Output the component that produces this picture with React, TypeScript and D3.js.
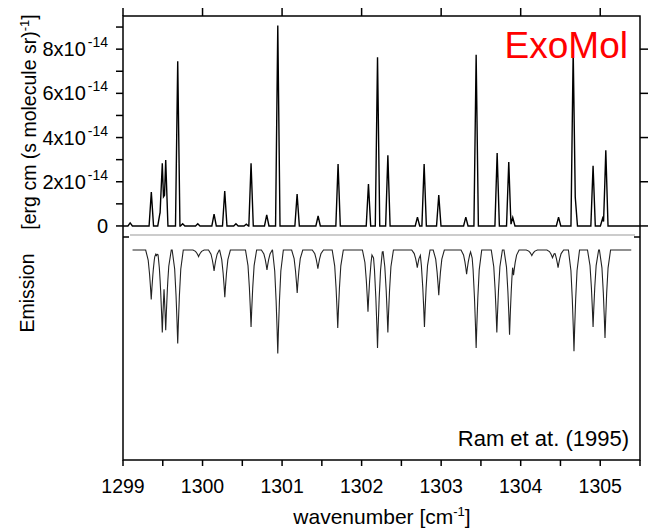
import React from 'react';
import * as d3 from 'd3';

const W = 653;
const H = 532;

// ExoMol line list: positions (cm-1) and peak intensities (x1e-14 erg cm (s molecule sr)^-1)
const exoPos = [
  1299.09, 1299.356, 1299.465, 1299.494, 1299.537, 1299.688, 1299.75, 1299.94,
  1300.145, 1300.279, 1300.42, 1300.55, 1300.61, 1300.807, 1300.946, 1301.189,
  1301.453, 1301.704, 1302.086, 1302.2, 1302.33, 1302.702, 1302.786, 1302.97,
  1303.31, 1303.44, 1303.704, 1303.85, 1303.9, 1304.476, 1304.66, 1304.686,
  1304.91, 1305.03, 1305.07,
];
const exoInt = [
  0.14, 1.53, 0.59, 2.84, 2.98, 7.45, 0.1, 0.1,
  0.54, 1.58, 0.1, 0.08, 2.84, 0.5, 9.07, 1.44,
  0.45, 2.8, 1.9, 7.63, 3.2, 0.4, 2.8, 1.4,
  0.4, 7.75, 3.3, 2.89, 0.38, 0.4, 7.95, 1.3,
  2.72, 0.35, 3.43,
];

// Ram et al. (1995) scanned emission trace: dip positions (cm-1) and relative depth
const ramPos = [
  1299.355, 1299.42, 1299.494, 1299.537, 1299.688, 1299.95, 1300.145, 1300.28,
  1300.61, 1300.81, 1300.946, 1301.19, 1301.45, 1301.70, 1302.08, 1302.20,
  1302.33, 1302.70, 1302.79, 1302.97, 1303.32, 1303.44, 1303.70, 1303.86,
  1303.91, 1304.14, 1304.40, 1304.47, 1304.67, 1304.91, 1305.06,
];
const ramDepth = [
  0.45, 0.05, 0.75, 0.73, 0.85, 0.06, 0.19, 0.43,
  0.70, 0.18, 0.94, 0.39, 0.17, 0.71, 0.56, 0.89,
  0.75, 0.16, 0.70, 0.41, 0.22, 0.89, 0.75, 0.77,
  0.23, 0.05, 0.07, 0.16, 0.92, 0.70, 0.80,
];
const ramRange = [1299.12, 1305.39];

const xMajor = [1299, 1300, 1301, 1302, 1303, 1304, 1305];
const xMinor = [1299.5, 1300.5, 1301.5, 1302.5, 1303.5, 1304.5, 1305.5];
const yMajor = [0, 2, 4, 6, 8];
const yMinor = [1, 3, 5, 7, 9];

const FONT = '"Liberation Sans", Arial, sans-serif';

// line profile: each line drawn as a narrow peak, lines max-combined.
// power 1 = triangle, power 2 = sharp tip with broader wings
function profile(pos: number[], val: number[], hw: number, pw: number, x0: number, x1: number) {
  const fr = pw === 1 ? [0, 1] : [0, 0.12, 0.3, 0.55, 1];
  const xs = new Set<number>([x0, x1]);
  pos.forEach(p => fr.forEach(f => { xs.add(p - f * hw); xs.add(p + f * hw); }));
  const sorted = Array.from(xs).filter(v => v >= x0 && v <= x1).sort((a, b) => a - b);
  return sorted.map(xv => {
    let v = 0;
    pos.forEach((p, i) => {
      const d = Math.abs(xv - p);
      if (d < hw) v = Math.max(v, val[i] * Math.pow(1 - d / hw, pw));
    });
    return [xv, v] as [number, number];
  });
}

export default function App() {
  const left = 123, right = 640, top = 16, bottom = 460, split = 237;

  const x = d3.scaleLinear().domain([1299, 1305.5]).range([left, right]);
  const yTop = d3.scaleLinear().domain([-0.5, 9.5]).range([split, top]);
  const yLow = d3.scaleLinear().domain([0, 1]).range([250, 360]);

  const upper = profile(exoPos, exoInt, 0.028, 1, 1299, 1305.5);
  const lower = profile(ramPos, ramDepth, 0.07, 2, ramRange[0], ramRange[1]);

  const lineTop = d3.line<[number, number]>().x(d => x(d[0])).y(d => yTop(d[1]));
  const lineLow = d3.line<[number, number]>().x(d => x(d[0])).y(d => yLow(d[1]));

  return (
    <svg width={W} height={H} style={{ position: 'absolute', left: 0, top: 0, background: '#fff' }}
      fontFamily={FONT}>
      <rect width={W} height={H} fill="#fff" />

      {/* scanned panel top edge */}
      <line x1={130} x2={635} y1={235} y2={235} stroke="#999" strokeWidth={1} />

      <path d={lineTop(upper) || ''} fill="none" stroke="#000" strokeWidth={1.4} />
      <path d={lineLow(lower) || ''} fill="none" stroke="#222" strokeWidth={1.1} />

      {/* frame */}
      <rect x={left} y={top} width={right - left} height={bottom - top}
        fill="none" stroke="#000" strokeWidth={1.5} />

      {/* top ticks */}
      {xMajor.map(t => (
        <line key={'tt' + t} x1={x(t)} x2={x(t)} y1={top} y2={top - 8} stroke="#000" strokeWidth={1.5} />
      ))}
      {/* bottom ticks */}
      {xMajor.concat(xMinor).map(t => (
        <line key={'bt' + t} x1={x(t)} x2={x(t)} y1={bottom} y2={bottom + 6} stroke="#000" strokeWidth={1.5} />
      ))}
      {/* left ticks */}
      {yMajor.concat(yMinor).map(t => (
        <line key={'lt' + t} x1={left} x2={left - 7} y1={yTop(t)} y2={yTop(t)} stroke="#000" strokeWidth={1.5} />
      ))}
      {/* right ticks */}
      {yMajor.map(t => (
        <line key={'rt' + t} x1={right} x2={right + 8} y1={yTop(t)} y2={yTop(t)} stroke="#000" strokeWidth={1.5} />
      ))}
      <line x1={left} x2={left + 6} y1={split} y2={split} stroke="#000" strokeWidth={1.5} />
      <line x1={right} x2={right - 6} y1={split} y2={split} stroke="#000" strokeWidth={1.5} />

      {/* y tick labels */}
      {yMajor.map(t => (
        <text key={'yl' + t} x={108} y={yTop(t) + 7} textAnchor="end" fontSize={20} fill="#000">
          {t === 0 ? '0' : `${t}x10`}
          {t !== 0 && <tspan dx={2} dy={-9} fontSize={14}>-14</tspan>}
        </text>
      ))}

      {/* x tick labels */}
      {xMajor.map(t => (
        <text key={'xl' + t} x={x(t)} y={493} textAnchor="middle" fontSize={19.5} fill="#000">{t}</text>
      ))}

      <text x={382} y={524} textAnchor="middle" fontSize={21} fill="#000">
        wavenumber [cm<tspan dy={-8} fontSize={13}>-1</tspan><tspan dy={8}>]</tspan>
      </text>

      <text transform="translate(36,122) rotate(-90)" textAnchor="middle" fontSize={19.5} fill="#000">
        [erg cm (s molecule sr)<tspan dy={-7} fontSize={13}>-1</tspan><tspan dy={7}>]</tspan>
      </text>
      <text transform="translate(34,293) rotate(-90)" textAnchor="middle" fontSize={19.5} fill="#000">
        Emission
      </text>

      <text x={628} y={58} textAnchor="end" fontSize={37} fill="#ff0000">ExoMol</text>
      <text x={629} y={446} textAnchor="end" fontSize={22} fill="#000">Ram et at. (1995)</text>
    </svg>
  );
}
